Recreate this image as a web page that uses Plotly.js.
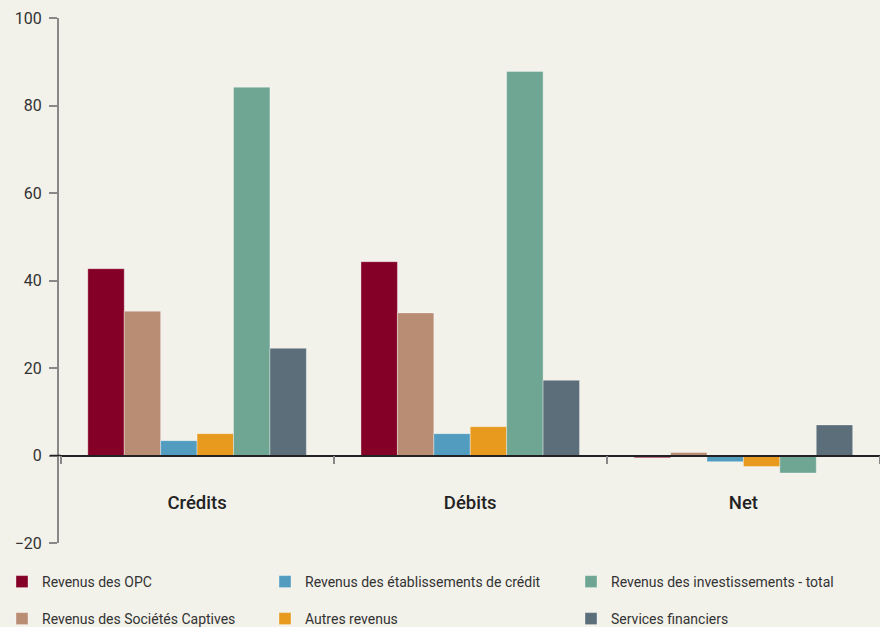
<!DOCTYPE html>
<html>
<head>
<meta charset="utf-8">
<script src="https://cdn.plot.ly/plotly-3.0.1.min.js"></script>
<style>
html,body{margin:0;padding:0;background:#F2F1EA;}
#chart{width:880px;height:627px;}
</style>
</head>
<body>
<div id="chart"></div>
<script>
// Data
const categories = ["Crédits", "Débits", "Net"];
const seriesNames = [
  "Revenus des OPC",
  "Revenus des Sociétés Captives",
  "Revenus des établissements de crédit",
  "Autres revenus",
  "Revenus des investissements - total",
  "Services financiers"
];
const opc          = [42.7, 44.3, -0.5];
const captives     = [33.0, 32.6, 0.7];
const etablissements = [3.4, 5.0, -1.4];
const autres       = [5.0, 6.6, -2.5];
const investissements = [84.2, 87.8, -4.0];
const services     = [24.5, 17.2, 7.0];
const yTickVals = [-20, 0, 20, 40, 60, 80, 100];

// Styles
const colors = ["#840027", "#B98C74", "#529CC0", "#E79A1D", "#6FA593", "#5B6E79"];
const legendIds = ["legend", "legend4", "legend2", "legend5", "legend3", "legend6"];
const seriesValues = [opc, captives, etablissements, autres, investissements, services];

const traces = seriesValues.map((vals, i) => ({
  type: "bar",
  name: seriesNames[i],
  x: categories,
  y: vals,
  legend: legendIds[i],
  marker: {color: colors[i], line: {color: "rgba(255,255,255,0.35)", width: 1}},
  hoverinfo: "name+y"
}));

const legFont = {family: "Roboto, 'DejaVu Sans', sans-serif", size: 14, color: "#333"};
function leg(xpx, ypx) {
  return {
    xref: "container", yref: "container",
    x: xpx / 880, y: 1 - ypx / 627,
    xanchor: "left", yanchor: "middle",
    bgcolor: "rgba(0,0,0,0)", borderwidth: 0,
    font: legFont
  };
}

const layout = {
  width: 880, height: 627,
  paper_bgcolor: "#F2F1EA",
  plot_bgcolor: "#F2F1EA",
  margin: {l: 58, r: 0, t: 18, b: 84, autoexpand: false},
  barmode: "group",
  bargap: 0.2,
  bargroupgap: 0,
  showlegend: true,
  yaxis: {
    anchor: "free",
    position: 0,
    range: [-20, 100],
    domain: [0, 1],
    tickvals: yTickVals,
    ticks: "outside", ticklen: 8, tickwidth: 2, tickcolor: "#888",
    showline: true, linecolor: "#888", linewidth: 2,
    showgrid: false, zeroline: false,
    tickfont: {family: "Roboto, sans-serif", size: 16, color: "#333"},
    ticklabelstandoff: 4,
    automargin: false
  },
  xaxis: {
    type: "category",
    anchor: "free",
    position: 20 / 120,
    domain: [2.5 / 822, 1],
    range: [-0.5, 2.5],
    showline: true, linecolor: "#222", linewidth: 1.5,
    ticks: "outside", tickson: "boundaries", ticklen: 8, tickwidth: 1.5, tickcolor: "#888",
    showgrid: false, zeroline: false,
    tickangle: 0,
    tickfont: {family: "Roboto, sans-serif", size: 18.5, color: "#222", weight: 500},
    ticklabelstandoff: 31,
    automargin: false
  },
  shapes: [{
    type: "line", xref: "paper", yref: "y",
    x0: -8 / 822, x1: 3 / 822, y0: 0, y1: 0,
    line: {color: "#222", width: 1.5}
  }],
  legend: leg(2, 582),
  legend2: leg(265, 582),
  legend3: leg(571, 582),
  legend4: leg(2, 619),
  legend5: leg(265, 619),
  legend6: leg(571, 619)
};

Plotly.newPlot("chart", traces, layout, {displayModeBar: false, responsive: false});
</script>
</body>
</html>
